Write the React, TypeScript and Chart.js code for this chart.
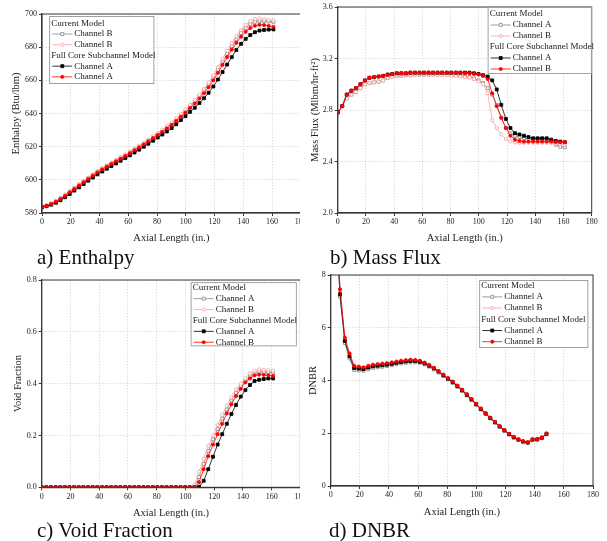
import React, { useEffect, useRef } from "react";
import { Chart, registerables } from "chart.js";

Chart.register(...registerables);

// ---------------- DATA ----------------
const AXIAL = [0, 3.2, 6.4, 9.7, 12.9, 16.1, 19.3, 22.5, 25.8, 29.0, 32.2, 35.4, 38.6, 41.9, 45.1, 48.3, 51.5, 54.7, 58.0, 61.2, 64.4, 67.6, 70.8, 74.0, 77.3, 80.5, 83.7, 86.9, 90.2, 93.4, 96.6, 99.8, 103.0, 106.3, 109.5, 112.7, 115.9, 119.2, 122.4, 125.6, 128.8, 132.0, 135.2, 138.5, 141.7, 144.9, 148.1, 151.3, 154.5, 157.7, 161.0];

const X_TICKS = [0, 20, 40, 60, 80, 100, 120, 140, 160, 180];

// a) Enthalpy
const ENTH_CUR_A = [583.5, 584.4, 585.6, 587.0, 588.8, 590.7, 592.8, 594.9, 597.0, 599.0, 601.0, 603.0, 604.9, 606.7, 608.4, 610.0, 611.6, 613.2, 614.8, 616.5, 618.3, 620.0, 621.8, 623.7, 625.7, 627.6, 629.6, 631.6, 633.8, 636.2, 638.8, 641.4, 644.1, 647.0, 650.1, 653.5, 657.3, 661.6, 666.3, 671.2, 676.0, 680.6, 684.8, 688.5, 691.6, 693.9, 695.3, 695.8, 695.7, 695.5, 695.3];
const ENTH_CUR_B = [583.5, 584.5, 585.8, 587.3, 589.1, 591.1, 593.2, 595.3, 597.4, 599.4, 601.4, 603.4, 605.3, 607.1, 608.8, 610.4, 612.0, 613.6, 615.3, 617.0, 618.8, 620.6, 622.4, 624.3, 626.3, 628.3, 630.3, 632.4, 634.6, 637.0, 639.6, 642.3, 645.1, 648.1, 651.3, 654.8, 658.7, 663.1, 667.9, 672.9, 677.8, 682.4, 686.6, 690.3, 693.4, 695.7, 697.0, 697.3, 696.8, 696.4, 696.1];
const ENTH_FC_A = [583.5, 584.1, 585.0, 586.2, 587.7, 589.5, 591.5, 593.5, 595.5, 597.5, 599.5, 601.4, 603.3, 605.0, 606.7, 608.3, 609.9, 611.5, 613.1, 614.8, 616.5, 618.2, 620.0, 621.8, 623.6, 625.5, 627.3, 629.2, 631.2, 633.5, 636.0, 638.4, 641.0, 643.5, 646.3, 649.2, 652.5, 656.3, 660.5, 665.0, 669.5, 674.0, 678.3, 682.0, 685.0, 687.3, 689.0, 690.0, 690.4, 690.6, 690.7];
const ENTH_FC_B = [583.5, 584.3, 585.4, 586.8, 588.5, 590.4, 592.5, 594.5, 596.6, 598.6, 600.6, 602.6, 604.5, 606.3, 608.0, 609.6, 611.2, 612.8, 614.4, 616.1, 617.9, 619.6, 621.4, 623.3, 625.2, 627.1, 629.0, 631.0, 633.2, 635.5, 638.1, 640.6, 643.3, 646.0, 649.0, 652.2, 655.8, 660.0, 664.5, 669.3, 674.0, 678.5, 682.6, 686.3, 689.3, 691.5, 692.9, 693.5, 693.3, 692.8, 692.3];

// b) Mass flux
const FLUX_CUR_A = [2.78, 2.83, 2.89, 2.92, 2.94, 2.97, 3.00, 3.01, 3.015, 3.02, 3.03, 3.05, 3.06, 3.065, 3.065, 3.07, 3.07, 3.075, 3.075, 3.075, 3.075, 3.075, 3.075, 3.075, 3.075, 3.07, 3.07, 3.065, 3.06, 3.055, 3.045, 3.03, 3.01, 2.97, 2.92, 2.84, 2.74, 2.66, 2.62, 2.60, 2.59, 2.58, 2.575, 2.575, 2.575, 2.575, 2.57, 2.56, 2.53, 2.515, 2.51];
const FLUX_CUR_B = [2.78, 2.83, 2.89, 2.92, 2.94, 2.97, 3.00, 3.01, 3.015, 3.02, 3.03, 3.05, 3.06, 3.065, 3.065, 3.07, 3.07, 3.075, 3.075, 3.075, 3.075, 3.075, 3.07, 3.07, 3.07, 3.065, 3.065, 3.06, 3.055, 3.05, 3.04, 3.02, 3.00, 2.93, 2.72, 2.66, 2.61, 2.575, 2.555, 2.548, 2.545, 2.545, 2.545, 2.545, 2.545, 2.545, 2.545, 2.545, 2.54, 2.535, 2.53];
const FLUX_FC_A = [2.78, 2.83, 2.92, 2.95, 2.97, 3.00, 3.03, 3.05, 3.055, 3.06, 3.065, 3.075, 3.08, 3.085, 3.085, 3.085, 3.09, 3.09, 3.09, 3.09, 3.09, 3.09, 3.09, 3.09, 3.09, 3.09, 3.09, 3.09, 3.09, 3.09, 3.085, 3.08, 3.07, 3.06, 3.03, 2.96, 2.84, 2.73, 2.66, 2.62, 2.61, 2.60, 2.59, 2.58, 2.58, 2.58, 2.58, 2.57, 2.56, 2.555, 2.55];
const FLUX_FC_B = [2.78, 2.83, 2.92, 2.95, 2.97, 3.00, 3.03, 3.05, 3.055, 3.06, 3.065, 3.075, 3.08, 3.085, 3.085, 3.085, 3.09, 3.09, 3.09, 3.09, 3.09, 3.09, 3.09, 3.09, 3.09, 3.09, 3.09, 3.09, 3.085, 3.085, 3.08, 3.075, 3.065, 3.04, 2.93, 2.83, 2.74, 2.66, 2.60, 2.57, 2.56, 2.555, 2.555, 2.555, 2.555, 2.555, 2.555, 2.555, 2.55, 2.55, 2.55];

// c) Void fraction
const VOID_CUR_A = [0, 0, 0, 0, 0, 0, 0, 0, 0, 0, 0, 0, 0, 0, 0, 0, 0, 0, 0, 0, 0, 0, 0, 0, 0, 0, 0, 0, 0, 0, 0, 0, 0, 0.005, 0.04, 0.09, 0.14, 0.185, 0.225, 0.265, 0.30, 0.335, 0.365, 0.39, 0.41, 0.428, 0.44, 0.445, 0.445, 0.444, 0.443];
const VOID_CUR_B = [0, 0, 0, 0, 0, 0, 0, 0, 0, 0, 0, 0, 0, 0, 0, 0, 0, 0, 0, 0, 0, 0, 0, 0, 0, 0, 0, 0, 0, 0, 0, 0, 0, 0.01, 0.06, 0.11, 0.16, 0.20, 0.24, 0.28, 0.315, 0.348, 0.378, 0.40, 0.42, 0.44, 0.45, 0.455, 0.453, 0.452, 0.45];
const VOID_FC_A = [0, 0, 0, 0, 0, 0, 0, 0, 0, 0, 0, 0, 0, 0, 0, 0, 0, 0, 0, 0, 0, 0, 0, 0, 0, 0, 0, 0, 0, 0, 0, 0, 0, 0, 0.002, 0.025, 0.07, 0.118, 0.165, 0.205, 0.245, 0.283, 0.318, 0.35, 0.375, 0.395, 0.41, 0.415, 0.418, 0.42, 0.42];
const VOID_FC_B = [0, 0, 0, 0, 0, 0, 0, 0, 0, 0, 0, 0, 0, 0, 0, 0, 0, 0, 0, 0, 0, 0, 0, 0, 0, 0, 0, 0, 0, 0, 0, 0, 0, 0, 0.02, 0.07, 0.12, 0.165, 0.205, 0.245, 0.285, 0.32, 0.352, 0.38, 0.405, 0.42, 0.432, 0.435, 0.434, 0.432, 0.43];

// d) DNBR
const DNBR_CUR_A = [null, 10.4, 7.18, 5.42, 4.84, 4.40, 4.38, 4.37, 4.43, 4.48, 4.50, 4.52, 4.55, 4.58, 4.62, 4.65, 4.67, 4.69, 4.69, 4.67, 4.61, 4.52, 4.42, 4.30, 4.17, 4.04, 3.91, 3.76, 3.60, 3.43, 3.26, 3.08, 2.90, 2.73, 2.56, 2.40, 2.24, 2.09, 1.95, 1.83, 1.74, 1.67, 1.63, 1.74, 1.75, 1.81, 1.96, null, null, null, null];
const DNBR_CUR_B = [null, 10.8, 7.38, 5.57, 4.97, 4.51, 4.49, 4.46, 4.52, 4.56, 4.58, 4.60, 4.62, 4.65, 4.68, 4.71, 4.73, 4.75, 4.74, 4.72, 4.66, 4.57, 4.47, 4.35, 4.21, 4.08, 3.95, 3.80, 3.64, 3.47, 3.29, 3.11, 2.93, 2.75, 2.58, 2.42, 2.26, 2.11, 1.97, 1.85, 1.76, 1.69, 1.65, 1.76, 1.77, 1.83, 1.98, null, null, null, null];
const DNBR_FC_A = [null, 10.6, 7.27, 5.50, 4.92, 4.47, 4.45, 4.43, 4.49, 4.54, 4.56, 4.58, 4.60, 4.63, 4.67, 4.70, 4.72, 4.74, 4.74, 4.71, 4.65, 4.56, 4.46, 4.34, 4.20, 4.07, 3.94, 3.79, 3.63, 3.46, 3.28, 3.10, 2.92, 2.75, 2.58, 2.42, 2.26, 2.11, 1.97, 1.85, 1.76, 1.69, 1.65, 1.76, 1.77, 1.83, 1.98, null, null, null, null];
const DNBR_FC_B = [null, 11.0, 7.46, 5.63, 5.03, 4.56, 4.53, 4.50, 4.56, 4.60, 4.62, 4.64, 4.66, 4.69, 4.72, 4.75, 4.77, 4.79, 4.78, 4.75, 4.68, 4.59, 4.48, 4.36, 4.22, 4.09, 3.96, 3.81, 3.65, 3.48, 3.30, 3.12, 2.94, 2.76, 2.59, 2.43, 2.27, 2.12, 1.98, 1.86, 1.77, 1.70, 1.66, 1.77, 1.78, 1.84, 1.99, null, null, null, null];

const LEGEND_HEAD_1 = "Current Model";
const LEGEND_HEAD_2 = "Full Core Subchannel Model";
const LABELS_A = ["Channel B", "Channel B", "Channel A", "Channel A"];
const LABELS_STD = ["Channel A", "Channel B", "Channel A", "Channel B"];

// ---------------- STYLES ----------------
const FONT = '"Liberation Serif", "Times New Roman", serif';
type SeriesStyle = { color: string; fill: string; shape: "rect" | "circle"; order: number };
const S_CUR_A: SeriesStyle = { color: "#858585", fill: "#ffffff", shape: "rect", order: 3 };
const S_CUR_B: SeriesStyle = { color: "#ff9c9c", fill: "#ffffff", shape: "circle", order: 2 };
const S_FC_A: SeriesStyle = { color: "#000000", fill: "#000000", shape: "rect", order: 1 };
const S_FC_B: SeriesStyle = { color: "#ff0000", fill: "#ff0000", shape: "circle", order: 0 };
const STYLES = [S_CUR_A, S_CUR_B, S_FC_A, S_FC_B];

function drawMarker(ctx: CanvasRenderingContext2D, s: SeriesStyle, x: number, y: number) {
  ctx.save();
  ctx.fillStyle = s.fill;
  ctx.strokeStyle = s.color;
  ctx.lineWidth = 0.8;
  ctx.beginPath();
  if (s.shape === "rect") ctx.rect(x - 1.5, y - 1.5, 3, 3);
  else ctx.arc(x, y, 1.6, 0, Math.PI * 2);
  ctx.fill();
  ctx.stroke();
  ctx.restore();
}

type Panel = {
  key: string;
  wrap: { left: number; top: number; width: number; height: number };
  canvasW: number;
  canvasH: number;
  area: { left: number; top: number; right: number; bottom: number };
  xh: number;
  yMin: number;
  yMax: number;
  yStep: number;
  yDec: number;
  yTitle: string;
  yTitleCenter: number;
  series: (number | null)[][];
  labels: string[];
  legend: { side: "left" | "right"; dx: number; dy: number; w: number; h: number; rowH: number; padTop: number };
};

const PANELS: Panel[] = [
  {
    key: "a",
    wrap: { left: 0, top: 0, width: 300, height: 250 },
    canvasW: 320, canvasH: 250,
    area: { left: 42, top: 14, right: 300.75, bottom: 213 },
    xh: 32,
    yMin: 580, yMax: 700, yStep: 20, yDec: 0,
    yTitle: "Enthalpy (Btu/lbm)", yTitleCenter: 16.7,
    series: [ENTH_CUR_A, ENTH_CUR_B, ENTH_FC_A, ENTH_FC_B],
    labels: LABELS_A,
    legend: { side: "left", dx: 7.3, dy: 2, w: 105, h: 68, rowH: 10.7, padTop: 2 },
  },
  {
    key: "b",
    wrap: { left: 300, top: 0, width: 307, height: 250 },
    canvasW: 307, canvasH: 250,
    area: { left: 37.7, top: 7, right: 291.7, bottom: 213 },
    xh: 32,
    yMin: 2.0, yMax: 3.6, yStep: 0.4, yDec: 1,
    yTitle: "Mass Flux (Mlbm/hr-ft\u00B2)", yTitleCenter: 15,
    series: [FLUX_CUR_A, FLUX_CUR_B, FLUX_FC_A, FLUX_FC_B],
    labels: LABELS_STD,
    legend: { side: "right", dx: 0, dy: 0, w: 104, h: 67, rowH: 11, padTop: 1.5 },
  },
  {
    key: "c",
    wrap: { left: 0, top: 265, width: 300, height: 260 },
    canvasW: 320, canvasH: 260,
    area: { left: 41.7, top: 15, right: 300.4, bottom: 222.3 },
    xh: 32,
    yMin: 0, yMax: 0.8, yStep: 0.2, yDec: 1,
    yTitle: "Void Fraction", yTitleCenter: 18.3,
    series: [VOID_CUR_A, VOID_CUR_B, VOID_FC_A, VOID_FC_B],
    labels: LABELS_STD,
    legend: { side: "right", dx: 3.7, dy: 2.3, w: 106, h: 64, rowH: 10.9, padTop: 0 },
  },
  {
    key: "d",
    wrap: { left: 300, top: 265, width: 307, height: 260 },
    canvasW: 307, canvasH: 260,
    area: { left: 30.7, top: 10, right: 293, bottom: 221 },
    xh: 33,
    yMin: 0, yMax: 8, yStep: 2, yDec: 0,
    yTitle: "DNBR", yTitleCenter: 13.3,
    series: [DNBR_CUR_A, DNBR_CUR_B, DNBR_FC_A, DNBR_FC_B],
    labels: LABELS_STD,
    legend: { side: "right", dx: 4.7, dy: 5, w: 109, h: 68, rowH: 11.2, padTop: 0.1 },
  },
];

const CAPTIONS = [
  { text: "a) Enthalpy", left: 37, baseline: 265 },
  { text: "b) Mass Flux", left: 330, baseline: 265 },
  { text: "c) Void Fraction", left: 37, baseline: 538 },
  { text: "d) DNBR", left: 329, baseline: 538 },
];

function makeChart(canvas: HTMLCanvasElement, p: Panel) {
  const lg = p.legend;
  const rows: { text: string; style?: SeriesStyle }[] = [
    { text: LEGEND_HEAD_1 },
    { text: p.labels[0], style: S_CUR_A },
    { text: p.labels[1], style: S_CUR_B },
    { text: LEGEND_HEAD_2 },
    { text: p.labels[2], style: S_FC_A },
    { text: p.labels[3], style: S_FC_B },
  ];
  const framePlugin = {
    id: "frame" + p.key,
    afterDatasetsDraw(chart: any) {
      const { ctx, chartArea: a } = chart;
      ctx.save();
      ctx.strokeStyle = "#3a3a3a";
      ctx.lineWidth = 1;
      ctx.strokeRect(a.left, a.top, a.right - a.left, a.bottom - a.top);
      ctx.restore();
    },
  };
  const legendPlugin = {
    id: "grpLegend" + p.key,
    afterDraw(chart: any) {
      const { ctx, chartArea: a } = chart;
      const left = lg.side === "left" ? a.left + lg.dx : a.right - lg.dx - lg.w;
      const top = a.top + lg.dy;
      ctx.save();
      ctx.fillStyle = "#ffffff";
      ctx.fillRect(left, top, lg.w, lg.h);
      ctx.strokeStyle = "#8a8a8a";
      ctx.lineWidth = 0.8;
      ctx.strokeRect(left + 0.4, top + 0.4, lg.w - 0.8, lg.h - 0.8);
      ctx.font = `9px ${FONT}`;
      ctx.textBaseline = "middle";
      ctx.textAlign = "left";
      rows.forEach((r, i) => {
        const cy = top + lg.padTop + lg.rowH * (i + 0.5);
        if (r.style) {
          ctx.strokeStyle = r.style.color;
          ctx.lineWidth = 0.8;
          ctx.beginPath();
          ctx.moveTo(left + 3, cy);
          ctx.lineTo(left + 23, cy);
          ctx.stroke();
          drawMarker(ctx, r.style, left + 13, cy);
          ctx.fillStyle = "#1a1a1a";
          ctx.fillText(r.text, left + 25, cy);
        } else {
          ctx.fillStyle = "#1a1a1a";
          ctx.fillText(r.text, left + 2, cy);
        }
      });
      ctx.restore();
    },
  };

  const datasets = p.series.map((ys, si) => {
    const st = STYLES[si];
    return {
      label: p.labels[si],
      data: AXIAL.map((x, i) => ({ x, y: ys[i] })),
      borderColor: st.color,
      backgroundColor: st.fill,
      pointBackgroundColor: st.fill,
      pointBorderColor: st.color,
      pointStyle: st.shape,
      pointRadius: st.shape === "rect" ? 2.1 : 1.6,
      pointBorderWidth: 0.8,
      borderWidth: 0.8,
      order: st.order,
      spanGaps: false,
      tension: 0,
    };
  });

  const tickFont = { family: FONT, size: 8 };
  const titleFont = { family: FONT, size: 10.5, lineHeight: 1.2 };
  const gridCommon = { color: "#d6d6d6", lineWidth: 0.8, tickLength: 3, tickColor: "#333333", tickWidth: 1 };
  const borderCommon = { color: "#333333", width: 1.2, dash: [1.5, 1.5] };

  return new Chart(canvas, {
    type: "line",
    data: { datasets: datasets as any },
    options: {
      responsive: false,
      animation: false,
      devicePixelRatio: 1,
      layout: {
        padding: {
          left: 0,
          top: p.area.top,
          right: p.canvasW - p.area.right,
          bottom: p.canvasH - p.area.bottom - p.xh,
        },
      },
      plugins: { legend: { display: false }, tooltip: { enabled: false } },
      scales: {
        x: {
          type: "linear",
          min: 0,
          max: 180,
          afterBuildTicks: (s: any) => {
            s.ticks = X_TICKS.map((v) => ({ value: v }));
          },
          ticks: { font: tickFont, color: "#222222", padding: 1.5, maxRotation: 0, autoSkip: false },
          grid: gridCommon,
          border: borderCommon,
          title: { display: true, text: "Axial Length (in.)", font: titleFont, color: "#222222", padding: 0 },
          afterFit: (s: any) => {
            s.height = p.xh;
            s.paddingLeft = 0;
            s.paddingRight = 0;
          },
        },
        y: {
          type: "linear",
          min: p.yMin,
          max: p.yMax,
          ticks: {
            stepSize: p.yStep,
            font: tickFont,
            color: "#222222",
            padding: 2,
            callback: (v: any) => Number(v).toFixed(p.yDec),
          },
          grid: gridCommon,
          border: borderCommon,
          title: {
            display: true,
            text: p.yTitle,
            font: titleFont,
            color: "#222222",
            padding: { top: p.yTitleCenter - 6.3, bottom: 0 },
          },
          afterFit: (s: any) => {
            s.width = p.area.left;
            s.paddingTop = 0;
            s.paddingBottom = 0;
          },
        },
      },
    } as any,
    plugins: [framePlugin, legendPlugin],
  });
}

function PanelChart({ p }: { p: Panel }) {
  const ref = useRef<HTMLCanvasElement | null>(null);
  useEffect(() => {
    if (!ref.current) return;
    const c = makeChart(ref.current, p);
    return () => c.destroy();
  }, [p]);
  return (
    <div
      style={{
        position: "absolute",
        left: p.wrap.left,
        top: p.wrap.top,
        width: p.wrap.width,
        height: p.wrap.height,
        overflow: "hidden",
      }}
    >
      <canvas
        ref={ref}
        width={p.canvasW}
        height={p.canvasH}
        style={{ display: "block", width: p.canvasW, height: p.canvasH }}
      />
    </div>
  );
}

export default function App() {
  return (
    <div
      style={{
        position: "fixed",
        left: 0,
        top: 0,
        width: 607,
        height: 541,
        background: "#ffffff",
        overflow: "hidden",
      }}
    >
      {PANELS.map((p) => (
        <PanelChart key={p.key} p={p} />
      ))}
      {CAPTIONS.map((c) => (
        <div
          key={c.text}
          style={{
            position: "absolute",
            left: c.left,
            top: c.baseline - 17.6,
            fontFamily: FONT,
            fontSize: 21,
            lineHeight: "21px",
            color: "#111111",
            whiteSpace: "nowrap",
          }}
        >
          {c.text}
        </div>
      ))}
    </div>
  );
}
